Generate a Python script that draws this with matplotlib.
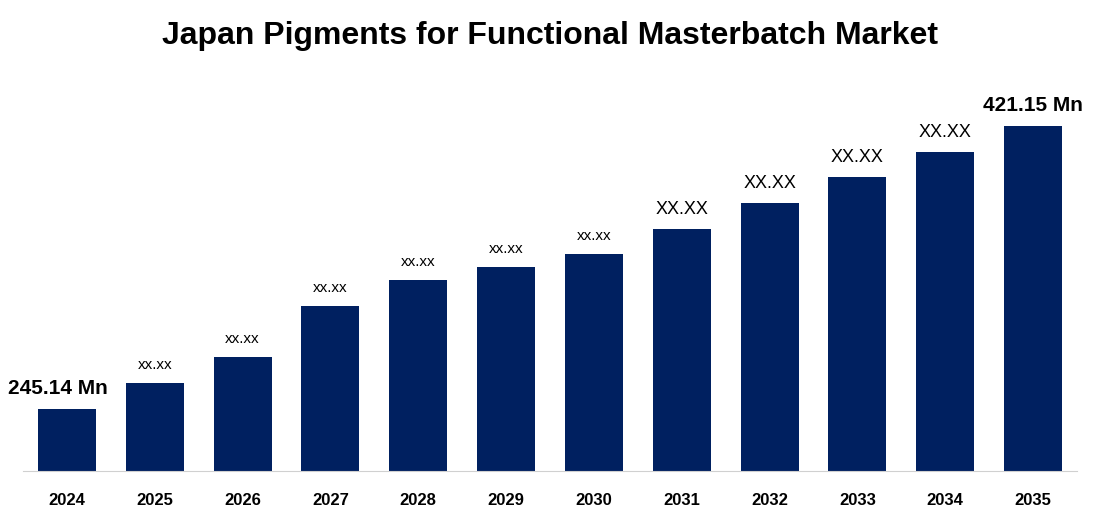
import matplotlib.pyplot as plt

years = ['2024', '2025', '2026', '2027', '2028', '2029', '2030', '2031', '2032', '2033', '2034', '2035']
values = [245.14, 261.3, 277.5, 309.2, 325.4, 333.5, 341.5, 357.1, 373.3, 389.4, 405.0, 421.15]
labels = ['245.14 Mn', 'xx.xx', 'xx.xx', 'xx.xx', 'xx.xx', 'xx.xx', 'xx.xx', 'XX.XX', 'XX.XX', 'XX.XX', 'XX.XX', '421.15 Mn']

plt.rcParams['font.family'] = 'Liberation Sans'
fig = plt.figure(figsize=(11, 5.25), dpi=100)
ax = fig.add_axes([23 / 1100, 1 - 471 / 525, 1054 / 1100, 381 / 525])

x = range(len(years))
bars = ax.bar(x, values, width=0.66, color='#002060')
ax.set_ylim(206.6, 443.6)
ax.set_xlim(-0.5, len(years) - 0.5)

for i, (b, lab) in enumerate(zip(bars, labels)):
    top = b.get_height()
    if i == 0:
        ax.text(i - 0.1, top + 7, lab, ha='center', va='bottom', fontsize=15, fontweight='bold')
    elif i == len(years) - 1:
        ax.text(i, top + 7, lab, ha='center', va='bottom', fontsize=15, fontweight='bold')
    elif i >= 7:
        ax.text(i, top + 7, lab, ha='center', va='bottom', fontsize=13)
    else:
        ax.text(i, top + 7, lab, ha='center', va='bottom', fontsize=11)

ax.set_xticks(list(x))
ax.set_xticklabels(years, fontsize=12, fontweight='bold')
ax.tick_params(axis='x', length=0, pad=16)
ax.set_yticks([])
for s in ['left', 'right', 'top']:
    ax.spines[s].set_visible(False)
ax.spines['bottom'].set_color('#d0d0d0')

fig.suptitle('Japan Pigments for Functional Masterbatch Market', y=0.96, fontsize=23, fontweight='bold')
fig.savefig('out.png', dpi=100)
